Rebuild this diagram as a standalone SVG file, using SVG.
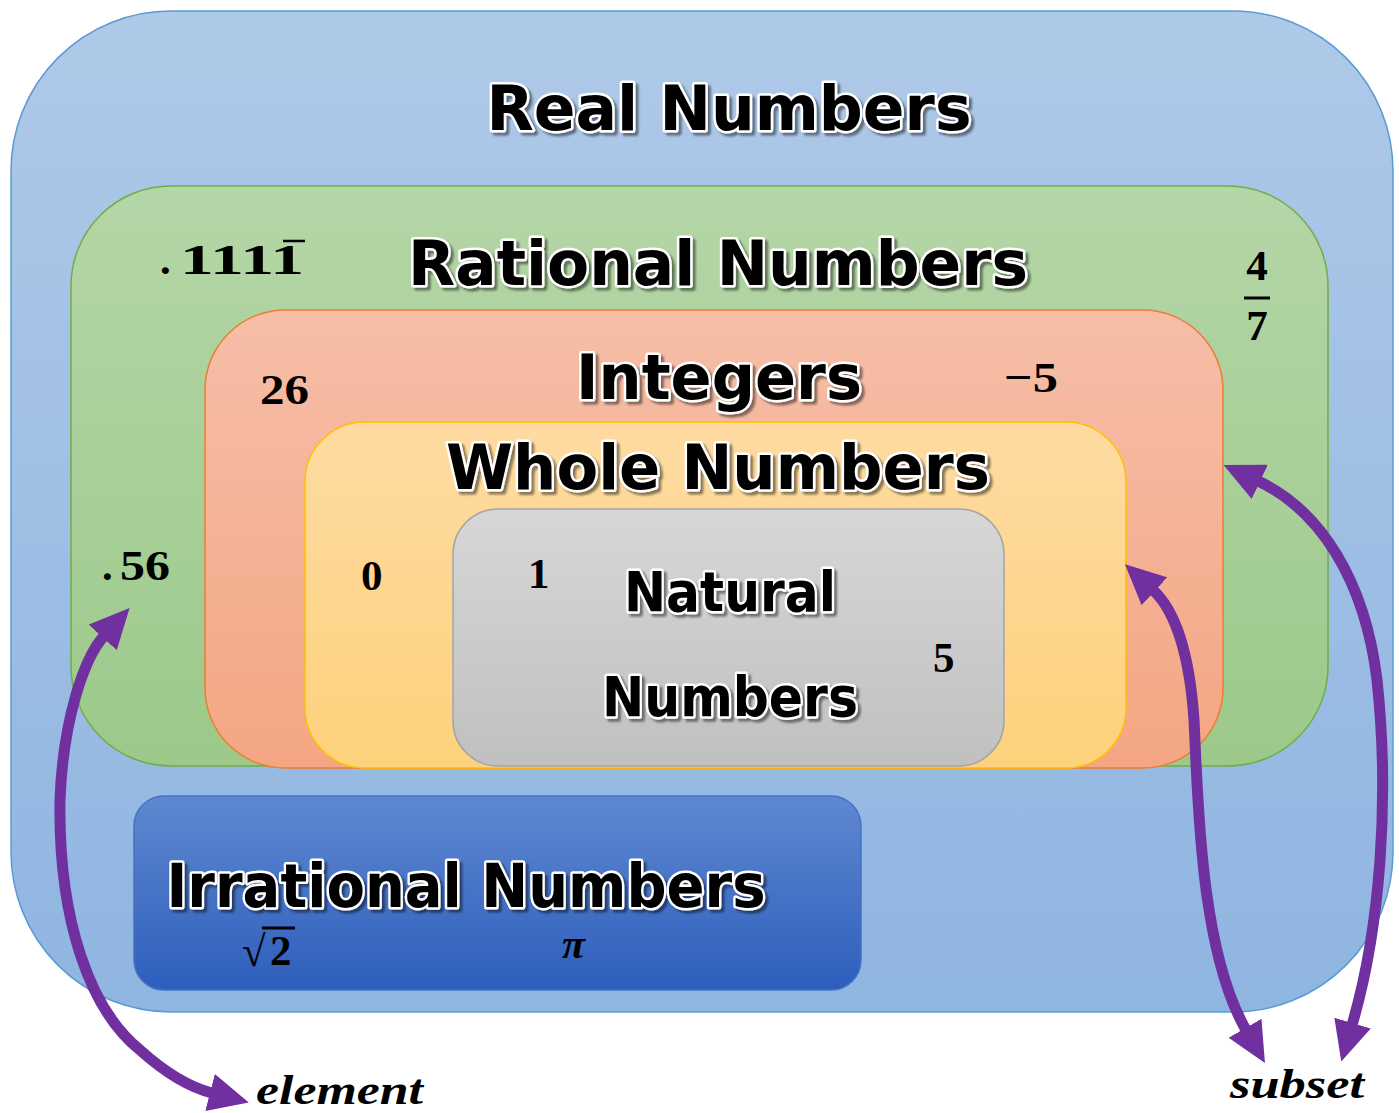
<svg xmlns="http://www.w3.org/2000/svg" width="1399" height="1113" viewBox="0 0 1399 1113">
<defs>
<linearGradient id="gReal" x1="0" y1="0" x2="0" y2="1"><stop offset="0" stop-color="#AFC9E8"/><stop offset="1" stop-color="#8FB5E1"/></linearGradient>
<linearGradient id="gRat" x1="0" y1="0" x2="0" y2="1"><stop offset="0" stop-color="#B5D6A7"/><stop offset="1" stop-color="#9CC98A"/></linearGradient>
<linearGradient id="gInt" x1="0" y1="0" x2="0" y2="1"><stop offset="0" stop-color="#F6BEA8"/><stop offset="1" stop-color="#F4A683"/></linearGradient>
<linearGradient id="gWhole" x1="0" y1="0" x2="0" y2="1"><stop offset="0" stop-color="#FEDBA2"/><stop offset="1" stop-color="#FDD27C"/></linearGradient>
<linearGradient id="gNat" x1="0" y1="0" x2="0" y2="1"><stop offset="0" stop-color="#D7D7D7"/><stop offset="1" stop-color="#C0C0C0"/></linearGradient>
<linearGradient id="gIrr" x1="0" y1="0" x2="0" y2="1"><stop offset="0" stop-color="#5F88D0"/><stop offset="1" stop-color="#2E5EBD"/></linearGradient>
<filter id="shadow" x="-10%" y="-30%" width="120%" height="160%">
<feDropShadow dx="3" dy="3" stdDeviation="1.2" flood-color="#000" flood-opacity="0.45"/>
</filter>
<marker id="head" viewBox="0 0 40 38" markerUnits="userSpaceOnUse" markerWidth="40" markerHeight="38" refX="2" refY="19" orient="auto-start-reverse">
<path d="M0,0 L40,19 L0,38 Z" fill="#7030A0"/>
</marker>
<style>
.title{font-family:"DejaVu Sans","Liberation Sans",sans-serif;font-weight:bold;fill:#000;stroke:#fff;stroke-width:5;stroke-linejoin:round;paint-order:stroke;filter:url(#shadow)}
.num{font-family:"Liberation Serif","DejaVu Serif",serif;font-weight:bold;font-size:43px;fill:#000}
.ital{font-family:"Liberation Serif","DejaVu Serif",serif;font-weight:bold;font-style:italic;font-size:42px;fill:#000}
.arrow{fill:none;stroke:#7030A0;stroke-width:11;marker-start:url(#head);marker-end:url(#head)}
</style>
</defs>
<g id="real">
<rect x="11" y="11" width="1382" height="1001" rx="160" fill="url(#gReal)" stroke="#5B9BD5" stroke-width="1.5"/>
<text class="title" x="729" y="130" font-size="62" text-anchor="middle" textLength="485" lengthAdjust="spacingAndGlyphs">Real Numbers</text>
</g>
<g id="rational">
<rect x="71" y="186" width="1257" height="580" rx="100" fill="url(#gRat)" stroke="#70AD47" stroke-width="1.5"/>
<text class="title" x="718" y="285" font-size="62" text-anchor="middle" textLength="620" lengthAdjust="spacingAndGlyphs">Rational Numbers</text>
<text class="num" x="160" y="274">.</text>
<text class="num" x="180" y="274" textLength="124" lengthAdjust="spacingAndGlyphs">1111</text>
<line x1="283" y1="241" x2="305" y2="241" stroke="#000" stroke-width="2.5"/>
<text class="num" x="1257" y="280" text-anchor="middle">4</text>
<line x1="1244" y1="298" x2="1270" y2="298" stroke="#000" stroke-width="3"/>
<text class="num" x="1257" y="340" text-anchor="middle">7</text>
<text class="num" x="102" y="580">.</text>
<text class="num" x="120" y="580" textLength="50" lengthAdjust="spacingAndGlyphs">56</text>
</g>
<g id="integers">
<rect x="205" y="310" width="1018" height="458" rx="80" fill="url(#gInt)" stroke="#ED7D31" stroke-width="1.5"/>
<text class="title" x="719" y="399" font-size="62" text-anchor="middle" textLength="286" lengthAdjust="spacingAndGlyphs">Integers</text>
<text class="num" x="260" y="404" textLength="49" lengthAdjust="spacingAndGlyphs">26</text>
<text class="num" x="1004" y="392" textLength="54" lengthAdjust="spacingAndGlyphs">−5</text>
</g>
<g id="whole">
<rect x="305" y="422" width="821" height="346" rx="60" fill="url(#gWhole)" stroke="#FFC000" stroke-width="1.5"/>
<text class="title" x="718" y="489" font-size="62" text-anchor="middle" textLength="544" lengthAdjust="spacingAndGlyphs">Whole Numbers</text>
<text class="num" x="361" y="590">0</text>
</g>
<g id="natural">
<rect x="453" y="509" width="551" height="257" rx="45" fill="url(#gNat)" stroke="#A5A5A5" stroke-width="1.5"/>
<text class="title" x="730" y="611" font-size="56" text-anchor="middle" textLength="212" lengthAdjust="spacingAndGlyphs">Natural</text>
<text class="title" x="730" y="716" font-size="56" text-anchor="middle" textLength="256" lengthAdjust="spacingAndGlyphs">Numbers</text>
<text class="num" x="528" y="588">1</text>
<text class="num" x="933" y="672">5</text>
</g>
<g id="irrational">
<rect x="134" y="796" width="727" height="194" rx="30" fill="url(#gIrr)" stroke="#4472C4" stroke-width="1.5"/>
<text class="title" x="466" y="907" font-size="60" text-anchor="middle" textLength="599" lengthAdjust="spacingAndGlyphs">Irrational Numbers</text>
<text class="num" x="242" y="966">√</text>
<line x1="262" y1="928" x2="295" y2="928" stroke="#000" stroke-width="3"/>
<text class="num" x="270" y="965">2</text>
<text class="ital" x="562" y="958">π</text>
</g>
<g id="connectors">
<path class="arrow" d="M104,636 C84,658 63,720 60,800 C58,920 90,1010 140,1050 C160,1068 185,1086 212,1093"/>
<path class="arrow" d="M1153,590 C1177,612 1190,660 1194,720 C1198,800 1200,950 1246,1030"/>
<path class="arrow" d="M1258,481 C1320,510 1365,580 1377,680 C1390,800 1380,930 1352,1025"/>
</g>
<g id="labels">
<text class="ital" x="256" y="1104" textLength="167" lengthAdjust="spacingAndGlyphs">element</text>
<text class="ital" x="1230" y="1098" textLength="134" lengthAdjust="spacingAndGlyphs">subset</text>
</g>
</svg>
